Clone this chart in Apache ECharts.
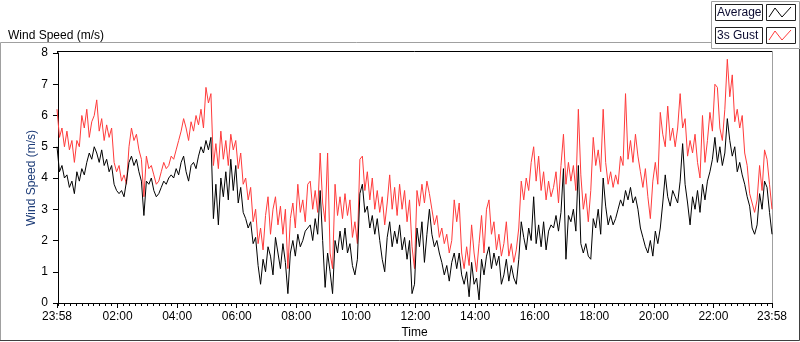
<!DOCTYPE html>
<html>
<head>
<meta charset="utf-8">
<script src="https://cdn.jsdelivr.net/npm/echarts@6/dist/echarts.min.js"></script>
<style>
  html, body { margin: 0; background: #fff; }
  #chart { width: 800px; height: 342px; }
</style>
</head>
<body>
<div id="chart"></div>
<script>
// time axis runs in minutes from midnight: -2 is 23:58 the day before, 1438 is 23:58
const START_MIN = -2
const STEP_MIN = 5

// 3s gust (red), one value every 5 min
const gust = [
  6.2, 5.3, 5.6, 5.0, 5.5, 4.9, 5.2, 4.5, 5.2, 5.0,
  6.0, 5.6, 6.2, 5.3, 5.8, 6.0, 6.5, 5.5, 5.9, 5.2,
  5.7, 5.3, 5.6, 4.5, 4.2, 4.4, 3.9, 4.1, 3.8, 5.0,
  5.6, 5.2, 5.4, 4.9, 4.6, 3.4, 4.7, 4.3, 4.4, 4.1,
  3.8, 3.9, 4.2, 4.5, 4.3, 4.4, 4.7, 4.6, 4.9, 5.2,
  5.5, 5.9,
  5.6, 5.2, 5.8, 5.5, 6.0, 5.7, 6.2, 5.6, 6.9, 6.4,
  6.7, 4.4, 5.1, 4.3, 5.5, 4.6, 5.2, 4.4, 5.4, 4.9,
  5.2, 4.3, 4.8, 3.8, 4.0, 3.3, 3.7, 2.6, 3.0, 1.9,
  2.4, 1.7, 2.8, 3.4, 2.2, 3.0, 3.4, 2.5, 3.1, 2.2,
  3.0, 1.1, 2.7, 3.2, 2.4, 3.8, 2.9, 3.3, 2.6, 3.8,
  3.9, 3.0, 3.6, 2.9, 4.8, 3.2, 2.6, 4.8, 1.6, 1.1,
  3.8, 2.8, 3.4, 2.7, 3.5, 2.8, 3.3, 2.1, 2.6, 1.9,
  4.6, 4.7, 3.6, 4.2, 3.3, 4.0, 3.0, 3.6, 2.9, 3.4,
  2.5, 3.2, 4.1, 3.0, 3.7, 2.8, 3.8, 3.0, 3.6, 2.6,
  3.3, 1.8, 1.1, 3.6, 3.1, 3.8, 3.2, 3.9, 3.5,
  3.0, 2.5, 2.8, 2.1, 2.4, 1.9, 2.2, 1.6, 2.0, 3.3,
  2.6, 3.2, 1.6, 1.1, 1.8, 1.2, 2.5, 1.6, 1.0, 1.9,
  2.8, 1.6, 3.0, 3.3, 2.2, 2.6, 1.7, 2.2, 1.5, 1.9,
  2.6, 1.5, 1.9, 1.3, 1.7, 2.4, 3.9, 3.3, 4.0, 3.6,
  4.5, 5.0, 3.9, 4.7, 3.6, 4.2, 3.3, 3.9, 3.4,
  3.7, 4.2, 3.2, 4.4, 5.4, 3.8, 4.5, 3.9, 4.4, 3.6,
  6.2, 4.1, 3.0, 3.5, 2.6, 3.6, 5.3, 4.4, 4.9, 4.2,
  6.2, 4.5, 3.8, 4.2, 3.7, 4.1, 3.8, 4.7, 4.4, 6.7,
  4.6, 5.2, 4.5, 5.4, 4.7, 4.2, 3.7, 4.3, 3.4, 2.7,
  3.9, 4.5, 3.8, 6.1, 5.4, 5.0, 6.3, 5.2, 5.6,
  5.0, 5.6, 6.7, 5.6, 5.9, 4.7, 5.2, 4.8, 5.4, 4.5,
  4.0, 6.0, 4.5, 5.2, 6.1, 5.5, 7.0, 6.9, 5.6, 5.2,
  6.2, 7.8, 6.6, 7.3, 5.8, 6.2, 5.6, 6.0, 4.8, 4.4,
  3.5, 3.2, 2.9, 3.3, 4.4, 3.6, 4.9, 4.6, 3.8, 3.0
]

// average (black), same timestamps
const average = [
  5.0, 4.2, 4.4, 4.0, 4.1, 3.7, 3.9, 3.5, 4.2, 3.9,
  4.3, 4.1, 4.5, 4.8, 4.6, 5.0, 4.8, 4.5, 4.9, 4.4,
  4.6, 4.2, 4.4, 3.8, 3.6, 3.5, 3.6, 3.4, 3.9, 4.5,
  4.7, 4.4, 4.6, 4.2, 3.9, 2.8, 3.9, 3.8, 4.0, 3.6,
  3.4, 3.5, 3.7, 3.9, 3.8, 4.0, 4.1, 4.0, 4.3, 4.1,
  4.5, 4.7,
  4.2, 3.9, 4.4, 4.5, 4.3, 4.7, 5.0, 4.8, 5.2, 4.9,
  5.3, 2.7, 3.8, 2.5, 4.0, 3.4, 4.2, 3.3, 4.6, 3.6,
  4.4, 3.2, 3.7, 2.9, 2.7, 2.4, 2.6, 1.9, 2.1, 1.2,
  0.6, 1.4, 1.0, 1.8, 1.5, 0.9, 2.1, 1.6, 1.1, 1.9,
  1.3, 0.3, 1.6, 2.0, 1.5, 2.2, 1.8, 2.0, 2.3, 2.4,
  2.5, 2.0, 2.7, 2.2, 3.6, 2.0, 0.5, 1.6, 1.0, 0.3,
  2.0, 1.6, 2.3, 1.7, 2.4, 1.6, 1.9, 1.2, 0.9, 1.4,
  3.5, 3.8, 2.9, 3.1, 2.4, 2.8, 2.2, 2.7, 2.0, 1.4,
  1.0, 2.1, 2.6, 1.8, 2.3, 1.9, 2.5, 1.7, 2.1, 1.4,
  2.0, 0.3, 0.6, 2.4, 1.8, 2.6, 1.3, 2.2, 3.0,
  2.2, 1.8, 2.0, 1.6, 1.3, 0.9, 1.2, 0.7, 1.3, 1.6,
  1.1, 1.6, 0.9, 0.6, 1.0, 0.2, 1.3, 0.6, 0.8, 0.1,
  1.4, 0.9, 1.5, 1.8, 1.1, 1.6, 1.2, 1.5, 0.6, 0.9,
  1.4, 0.7, 1.2, 0.8, 0.6, 1.4, 2.6, 2.1, 1.7, 2.4,
  2.0, 3.4, 1.9, 2.5, 1.8, 2.6, 1.7, 2.3, 2.5,
  2.4, 2.8, 2.3, 2.9, 4.3, 1.4, 2.8, 2.6, 3.0, 2.3,
  4.4, 1.9, 1.6, 1.9, 1.5, 1.4, 2.7, 2.4, 3.0, 2.2,
  4.0, 3.1, 2.5, 2.8, 2.5, 2.7, 3.0, 3.3, 3.1, 3.6,
  3.3, 3.7, 3.2, 3.4, 3.0, 2.4, 2.1, 1.8, 1.6, 2.0,
  1.5, 2.3, 1.9, 2.4, 3.2, 4.1, 3.4, 3.1, 3.6,
  3.4, 3.2, 3.9, 5.1, 3.8, 3.2, 2.5, 3.4, 3.0, 3.6,
  2.9, 3.8, 3.3, 3.9, 4.2, 4.6, 5.3, 4.5, 5.0, 4.4,
  4.8, 5.9, 5.2, 4.7, 5.0, 4.2, 4.5, 4.1, 3.8, 3.4,
  3.1, 2.4, 2.2, 2.5, 3.5, 3.0, 3.9, 3.7, 2.9, 2.2
]

// labelled ticks (minutes): 23:58, 02:00 ... 22:00, 23:58
const timeTicks = [-2, 120, 240, 360, 480, 600, 720, 840, 960, 1080, 1200, 1320, 1438]
const MINOR_STEP = 12

const FONT = "'Liberation Sans', Arial, sans-serif"

function toPairs(values) {
  return values.map((v, i) => [START_MIN + i * STEP_MIN, v])
}

function fmtTime(m) {
  const t = (m + 1440) % 1440
  const h = Math.floor(t / 60)
  const mm = t % 60
  return String(h).padStart(2, '0') + ':' + String(mm).padStart(2, '0')
}

const minorTicks = []
for (let m = 0; m <= 1438; m += MINOR_STEP) minorTicks.push(m)

const X_MIN = timeTicks[0]
const X_MAX = timeTicks[timeTicks.length - 1]

const chart = echarts.init(document.getElementById('chart'), null, { renderer: 'canvas' })

chart.setOption({
  animation: false,
  backgroundColor: '#fff',
  title: {
    text: 'Wind Speed (m/s)',
    left: 3,
    top: 25,
    textStyle: { fontFamily: FONT, fontSize: 12, fontWeight: 'normal', color: '#000' },
  },
  grid: { left: 57, right: 28, top: 53, bottom: 39, show: false, outerBoundsMode: 'none' },
  xAxis: [
    {
      type: 'value',
      min: X_MIN,
      max: X_MAX,
      name: 'Time',
      nameLocation: 'middle',
      nameGap: 24,
      nameMoveOverlap: false,
      nameTextStyle: { fontFamily: FONT, fontSize: 12, color: '#000' },
      axisLine: { show: true, lineStyle: { color: '#000', width: 1 } },
      axisTick: { show: true, customValues: timeTicks, length: 5, lineStyle: { color: '#000' } },
      axisLabel: {
        customValues: timeTicks,
        formatter: fmtTime,
        margin: 8,
        fontFamily: FONT,
        fontSize: 12,
        color: '#000',
      },
      splitLine: { show: false },
    },
    {
      type: 'value',
      min: X_MIN,
      max: X_MAX,
      position: 'bottom',
      axisLine: { show: false },
      axisTick: { show: true, customValues: minorTicks, length: 3, lineStyle: { color: '#000' } },
      axisLabel: { show: false },
      splitLine: { show: false },
    },
  ],
  yAxis: {
    type: 'value',
    min: 0,
    max: 8,
    interval: 1,
    name: 'Wind Speed (m/s)',
    nameLocation: 'middle',
    nameGap: 19,
    nameMoveOverlap: false,
    nameTextStyle: { fontFamily: FONT, fontSize: 12, color: '#1d3c78' },
    axisLine: { show: true, lineStyle: { color: '#000', width: 1 } },
    axisTick: { show: true, length: 5, lineStyle: { color: '#000' } },
    axisLabel: { margin: 9, fontFamily: FONT, fontSize: 12, color: '#000' },
    splitLine: { show: false },
  },
  series: [
    {
      name: '3s Gust',
      type: 'line',
      data: toPairs(gust),
      showSymbol: false,
      lineStyle: { color: '#ff3b3b', width: 1 },
      itemStyle: { color: '#ff3b3b' },
    },
    {
      name: 'Average',
      type: 'line',
      data: toPairs(average),
      showSymbol: false,
      lineStyle: { color: '#000', width: 1 },
      itemStyle: { color: '#000' },
    },
  ],
  graphic: [
    // plot frame: black top (and left via axis), grey right edge
    { type: 'line', shape: { x1: 57, y1: 51.5, x2: 772, y2: 51.5 }, style: { stroke: '#000', lineWidth: 1 } },
    { type: 'line', shape: { x1: 57.5, y1: 51, x2: 57.5, y2: 54 }, style: { stroke: '#000', lineWidth: 1 } },
    { type: 'line', shape: { x1: 772.5, y1: 51, x2: 772.5, y2: 303 }, style: { stroke: '#a0a0a0', lineWidth: 1 } },
    // outer frame
    { type: 'polyline', shape: { points: [[0.5, 341], [0.5, 42.5], [712, 42.5]] }, style: { stroke: '#a0a0a0', fill: null, lineWidth: 1 } },
    { type: 'polyline', shape: { points: [[0, 340.5], [799.5, 340.5], [799.5, 49]] }, style: { stroke: '#404040', fill: null, lineWidth: 1 } },
    // legend panel
    { type: 'rect', shape: { x: 711.5, y: 1.5, width: 88, height: 47 }, style: { stroke: '#a0a0a0', fill: '#fff', lineWidth: 1 } },
    { type: 'rect', shape: { x: 715.5, y: 4.5, width: 47, height: 16 }, style: { stroke: '#202020', fill: '#fff', lineWidth: 1 } },
    { type: 'text', x: 717, y: 13, style: { text: 'Average', fontFamily: FONT, fontSize: 12, fill: '#0a0a30', verticalAlign: 'middle' } },
    { type: 'rect', shape: { x: 766.5, y: 4.5, width: 29, height: 16 }, style: { stroke: '#202020', fill: '#fff', lineWidth: 1 } },
    { type: 'polyline', shape: { points: [[769, 17], [775, 8], [782, 17], [791, 7]] }, style: { stroke: '#000', fill: null, lineWidth: 1 } },
    { type: 'rect', shape: { x: 715.5, y: 27.5, width: 47, height: 16 }, style: { stroke: '#202020', fill: '#fff', lineWidth: 1 } },
    { type: 'text', x: 717, y: 36, style: { text: '3s Gust', fontFamily: FONT, fontSize: 12, fill: '#0a0a30', verticalAlign: 'middle' } },
    { type: 'rect', shape: { x: 766.5, y: 27.5, width: 29, height: 16 }, style: { stroke: '#202020', fill: '#fff', lineWidth: 1 } },
    { type: 'polyline', shape: { points: [[769, 40], [775, 31], [782, 40], [791, 30]] }, style: { stroke: '#ff3b3b', fill: null, lineWidth: 1 } },
  ],
})
</script>
</body>
</html>
